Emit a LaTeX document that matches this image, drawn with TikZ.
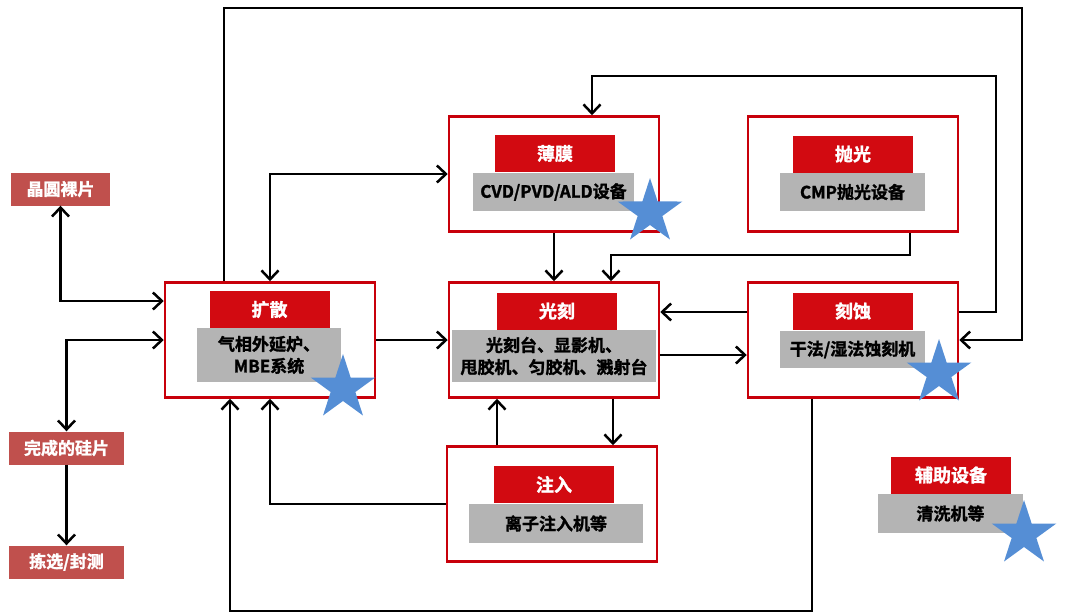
\documentclass[tikz,border=0pt]{standalone}
\usepackage{fontspec}
\setmainfont{Noto Sans CJK SC}[BoldFont={Noto Sans CJK SC Bold},BoldFeatures={FakeBold=1.5}]
\usetikzlibrary{arrows.meta,shapes.geometric}
\definecolor{boxred}{RGB}{200,0,10}
\definecolor{titlered}{RGB}{210,10,17}
\definecolor{graybox}{RGB}{180,180,180}
\definecolor{sidered}{RGB}{192,80,77}
\definecolor{starblue}{RGB}{85,142,213}
\tikzset{
  outerbox/.style={draw=boxred, line width=2.5pt, fill=white, minimum width=210pt, minimum height=115pt, inner sep=0pt},
  titlebox/.style={fill=titlered, text=white, font=\fontsize{18}{20}\selectfont\bfseries, minimum width=120pt, minimum height=37pt, inner sep=0pt},
  graylbl/.style={fill=graybox, text=black, font=\fontsize{17}{22}\selectfont\bfseries, align=center, inner sep=0pt},
  sidebox/.style={fill=sidered, text=white, font=\fontsize{17}{20}\selectfont\bfseries, minimum height=33pt, inner sep=0pt},
  bluestar/.style={star, star points=5, star point ratio=2.618, fill=starblue, minimum size=68pt, inner sep=0pt, shape border rotate=0},
  arr/.style={draw=black, line width=2.5pt, -{Straight Barb[length=9pt,width=17pt,line width=2.5pt]}},
  darr/.style={draw=black, line width=2.5pt, {Straight Barb[length=9pt,width=17pt,line width=2.5pt]}-{Straight Barb[length=9pt,width=17pt,line width=2.5pt]}}
}
\begin{document}
\begin{tikzpicture}[x=1pt,y=-1pt]
\useasboundingbox (0,0) rectangle (1065,614);
% outer boxes
\node[outerbox] (kuosan) at (270,340) {};
\node[outerbox] (bomo) at (554,174) {};
\node[outerbox] (paoguang) at (853,174) {};
\node[outerbox] (guangke) at (554,340) {};
\node[outerbox] (keshi) at (853,340) {};
\node[outerbox] (zhuru) at (552,504) {};
% titles
\node[titlebox] (t1) at (269.5,309.5) {扩散};
\node[titlebox] (t2) at (555,153.5) {薄膜};
\node[titlebox] (t3) at (853,154) {抛光};
\node[titlebox] (t4) at (557,311) {光刻};
\node[titlebox] (t5) at (853,311) {刻蚀};
\node[titlebox] (t6) at (554,484.5) {注入};
\node[titlebox] (t7) at (951,475) {辅助设备};
% gray labels
\node[graylbl, minimum width=144pt, minimum height=54pt] (g1) at (269,355) {气相外延炉、\\MBE系统};
\node[graylbl, minimum width=161pt, minimum height=38pt] (g2) at (553.5,192) {CVD/PVD/ALD设备};
\node[graylbl, minimum width=145pt, minimum height=38pt] (g3) at (852.5,192) {CMP抛光设备};
\node[graylbl, minimum width=204pt, minimum height=52pt] (g4) at (554,356) {光刻台、显影机、\\甩胶机、匀胶机、溅射台};
\node[graylbl, minimum width=145pt, minimum height=37pt] (g5) at (852.5,349.5) {干法/湿法蚀刻机};
\node[graylbl, minimum width=174pt, minimum height=39pt] (g6) at (556,523.5) {离子注入机等};
\node[graylbl, minimum width=145pt, minimum height=39pt] (g7) at (950.5,513.5) {清洗机等};
% side labels
\node[sidebox, minimum width=99pt] (jingyuan) at (60.5,189) {晶圆裸片};
\node[sidebox, minimum width=115pt] (wancheng) at (66.5,448) {完成的硅片};
\node[sidebox, minimum width=115pt] (jianxuan) at (66.5,562) {拣选/封测};
% coordinates for corners
\coordinate (c1) at (224,8);
\coordinate (c2) at (1022,8);
\coordinate (c3) at (996,76);
\coordinate (c5) at (611,255);
\coordinate (c6) at (230,611);
% connectors
\draw[darr] (jingyuan.south) |- ([yshift=39pt]kuosan.west);
\draw[darr] (wancheng.north) |- (kuosan.west);
\draw[arr] (wancheng.south) -- (jianxuan.north);
\draw[arr] (kuosan.north -| c1) |- (c2) |- (keshi.east);
\draw[arr] ([yshift=28pt]keshi.east) -| (c3) -| ([xshift=38pt]bomo.north);
\draw[darr] (bomo.west) -| (kuosan.north);
\draw[arr] (bomo.south) -- (bomo.south |- guangke.north);
\draw[arr] ([xshift=57pt]paoguang.south) |- (c5) -- (c5 |- guangke.north);
\draw[arr] ([yshift=28pt]keshi.west) -- ([yshift=28pt]guangke.east);
\draw[arr] (kuosan.east) -- (guangke.west);
\draw[arr] ([yshift=-15pt]guangke.east) -- ([yshift=-15pt]keshi.west);
\draw[arr] ([xshift=59pt]guangke.south) -- ([xshift=61pt]zhuru.north);
\draw[arr] ([xshift=-55pt]zhuru.north) -- ([xshift=-57pt]guangke.south);
\draw[arr] (zhuru.west) -| (kuosan.south);
\draw[arr] ([xshift=-41pt]keshi.south) |- (c6) -- (c6 |- kuosan.south);
% stars
\node[bluestar] (s1) at (343,388) {};
\node[bluestar] (s2) at (650,212) {};
\node[bluestar] (s3) at (939,373) {};
\node[bluestar] (s4) at (1024,534) {};
\end{tikzpicture}
\end{document}
